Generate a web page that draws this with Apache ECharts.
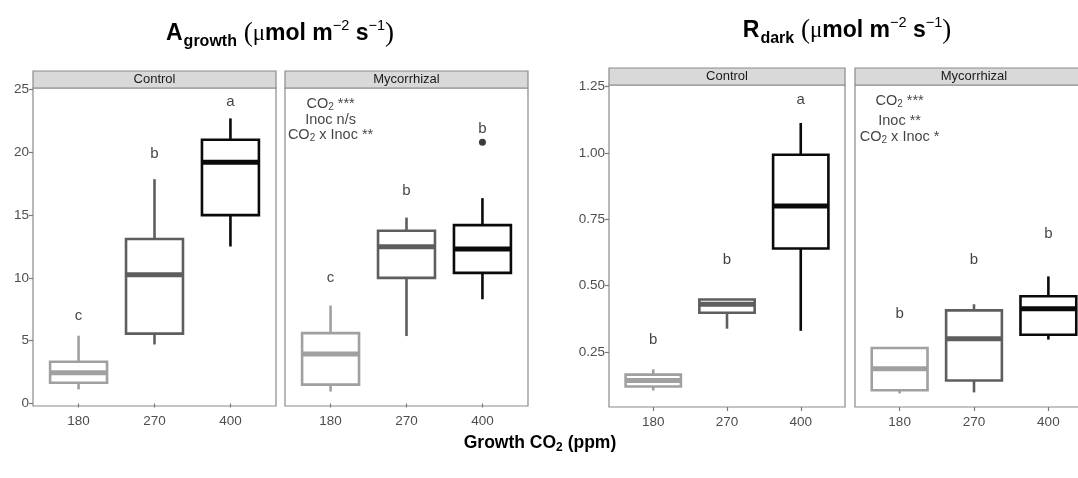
<!DOCTYPE html>
<html>
<head>
<meta charset="utf-8">
<script src="https://cdn.jsdelivr.net/npm/echarts@6/dist/echarts.min.js"></script>
<style>
html,body{margin:0;padding:0;background:#fff;}
#chart{width:1078px;height:478px;}
</style>
</head>
<body>
<div id="chart"></div>
<script>
// ---------- DATA ----------
const categories = ['180', '270', '400'];
const panelNames = ['Control', 'Mycorrhizal'];
// box stats per CO2 level: [min, Q1, median, Q3, max]
const aGrowthControl = [[1.12, 1.65, 2.45, 3.32, 5.4], [4.7, 5.56, 10.25, 13.1, 17.86], [12.5, 15.0, 19.2, 21.0, 22.7]];
const aGrowthMyc = [[0.95, 1.5, 3.95, 5.6, 7.8], [5.37, 10.0, 12.47, 13.75, 14.8], [8.3, 10.4, 12.3, 14.2, 16.35]];
const aGrowthMycOutliers = [[3, 20.8]];
const rDarkControl = [[0.105, 0.12, 0.143, 0.165, 0.185], [0.338, 0.398, 0.43, 0.448, 0.448], [0.33, 0.64, 0.80, 0.993, 1.113]];
const rDarkMyc = [[0.094, 0.106, 0.187, 0.265, 0.269], [0.098, 0.143, 0.30, 0.407, 0.43], [0.297, 0.315, 0.413, 0.46, 0.535]];
// significance letters and their y-values
const aLettersControl = ['c', 'b', 'a'];
const aLetterYControl = [7.0, 19.9, 24.0];
const aLettersMyc = ['c', 'b', 'b'];
const aLetterYMyc = [10.0, 16.9, 21.9];
const rLettersControl = ['b', 'b', 'a'];
const rLetterYControl = [0.297, 0.596, 1.199];
const rLettersMyc = ['b', 'b', 'b'];
const rLetterYMyc = [0.395, 0.596, 0.696];
// ANOVA annotation
const aStats = ['{t|CO}{s|2}{t| ***}', '{t|Inoc n/s}', '{t|CO}{s|2}{t| x Inoc **}'];
const aStatsY = [23.85, 22.6, 21.4];
const rStats = ['{t|CO}{s|2}{t| ***}', '{t|Inoc **}', '{t|CO}{s|2}{t| x Inoc *}'];
const rStatsY = [1.195, 1.12, 1.06];
const aTicks = [0, 5, 10, 15, 20, 25];
const rTicks = [0.25, 0.50, 0.75, 1.00, 1.25];

// ---------- STYLE / LAYOUT ----------
const levelColors = ['#a0a0a0', '#5e5e5e', '#0a0a0a'];
const FONT = 'Liberation Sans, Arial, sans-serif';
const panels = [
  { left: 33, top: 88, width: 243, height: 318, ymin: -0.2, ymax: 25.12, ticks: aTicks, dec: 0, yLabels: true, box: aGrowthControl, letters: aLettersControl, letterY: aLetterYControl },
  { left: 285, top: 88, width: 243, height: 318, ymin: -0.2, ymax: 25.12, ticks: aTicks, dec: 0, yLabels: false, box: aGrowthMyc, letters: aLettersMyc, letterY: aLetterYMyc, outliers: aGrowthMycOutliers, stats: aStats, statsY: aStatsY },
  { left: 609, top: 85, width: 236, height: 322, ymin: 0.043, ymax: 1.256, ticks: rTicks, dec: 2, yLabels: true, box: rDarkControl, letters: rLettersControl, letterY: rLetterYControl },
  { left: 855, top: 85, width: 238, height: 322, ymin: 0.043, ymax: 1.256, ticks: rTicks, dec: 2, yLabels: false, box: rDarkMyc, letters: rLettersMyc, letterY: rLetterYMyc, stats: rStats, statsY: rStatsY }
];

const grid = [], xAxis = [], yAxis = [], series = [], graphic = [];

panels.forEach((p, i) => {
  grid.push({ left: p.left, top: p.top, width: p.width, height: p.height, show: true, backgroundColor: '#fff', borderColor: '#8a8a8a', borderWidth: 1.2, containLabel: false, outerBoundsMode: 'none' });
  xAxis.push({
    type: 'value', gridIndex: i, min: 0.4, max: 3.6,
    axisLine: { show: false }, splitLine: { show: false },
    axisTick: { show: true, customValues: [1, 2, 3], length: 4, lineStyle: { color: '#7a7a7a', width: 1.2 } },
    axisLabel: { customValues: [1, 2, 3], formatter: v => categories[Math.round(v) - 1], color: '#4d4d4d', fontSize: 13.5, fontFamily: FONT, margin: 8 }
  });
  yAxis.push({
    type: 'value', gridIndex: i, min: p.ymin, max: p.ymax,
    axisLine: { show: false }, splitLine: { show: false },
    axisTick: { show: p.yLabels, customValues: p.ticks, length: 4, lineStyle: { color: '#7a7a7a', width: 1.2 } },
    axisLabel: { show: p.yLabels, customValues: p.ticks, formatter: v => v.toFixed(p.dec), color: '#4d4d4d', fontSize: 13.5, fontFamily: FONT, margin: 4 }
  });
  // boxes
  series.push({
    type: 'custom', xAxisIndex: i, yAxisIndex: i, z: 3,
    data: p.box.map((b, k) => [k + 1, b[0], b[1], b[2], b[3], b[4], k]),
    renderItem: (params, api) => {
      const x = api.value(0);
      const lo = api.coord([x, api.value(1)]);
      const q1 = api.coord([x, api.value(2)]);
      const md = api.coord([x, api.value(3)]);
      const q3 = api.coord([x, api.value(4)]);
      const hi = api.coord([x, api.value(5)]);
      const w = api.size([0.75, 0])[0];
      const c = levelColors[api.value(6)];
      return {
        type: 'group', children: [
          { type: 'line', shape: { x1: lo[0], y1: lo[1], x2: q1[0], y2: q1[1] }, style: { stroke: c, lineWidth: 2.6 } },
          { type: 'line', shape: { x1: q3[0], y1: q3[1], x2: hi[0], y2: hi[1] }, style: { stroke: c, lineWidth: 2.6 } },
          { type: 'rect', shape: { x: q3[0] - w / 2, y: q3[1], width: w, height: q1[1] - q3[1] }, style: { fill: '#fff', stroke: c, lineWidth: 2.6 } },
          { type: 'line', shape: { x1: md[0] - w / 2, y1: md[1], x2: md[0] + w / 2, y2: md[1] }, style: { stroke: c, lineWidth: 5 } }
        ]
      };
    }
  });
  // letters
  series.push({
    type: 'scatter', xAxisIndex: i, yAxisIndex: i, symbolSize: 0, z: 4,
    data: p.letters.map((l, k) => ({ value: [k + 1, p.letterY[k]], name: l })),
    label: { show: true, position: 'inside', formatter: d => d.name, color: '#111', fontSize: 15, fontFamily: FONT },
    silent: true
  });
  if (p.outliers) {
    series.push({
      type: 'scatter', xAxisIndex: i, yAxisIndex: i, symbolSize: 7, z: 5,
      itemStyle: { color: '#0a0a0a' }, data: p.outliers
    });
  }
  if (p.stats) {
    series.push({
      type: 'scatter', xAxisIndex: i, yAxisIndex: i, symbolSize: 0, z: 4, silent: true,
      data: p.stats.map((s, k) => ({ value: [1, p.statsY[k]], name: s })),
      label: {
        show: true, position: 'inside', formatter: d => d.name,
        rich: {
          t: { fontSize: 14.5, color: '#111', fontFamily: FONT, lineHeight: 17 },
          s: { fontSize: 10, color: '#111', fontFamily: FONT, lineHeight: 10, padding: [7, 0, 0, 0], verticalAlign: 'bottom' }
        }
      }
    });
  }
  // strip
  const stripH = 17;
  graphic.push({
    type: 'rect', shape: { x: p.left, y: p.top - stripH, width: p.width, height: stripH },
    style: { fill: '#d9d9d9', stroke: '#8a8a8a', lineWidth: 1.2 }, z: 10
  });
  graphic.push({
    type: 'text', x: p.left + p.width / 2, y: p.top - stripH / 2, z: 11,
    style: { text: panelNames[i % 2], fill: '#1a1a1a', font: '13px ' + FONT, align: 'center', verticalAlign: 'middle' }
  });
});

const titleRich = {
  b: { fontFamily: FONT, fontWeight: 'bold', fontSize: 23, lineHeight: 32, color: '#000' },
  sub: { fontFamily: FONT, fontWeight: 'bold', fontSize: 16, lineHeight: 16, padding: [16, 0, 0, 1], verticalAlign: 'bottom', color: '#000' },
  sup: { fontFamily: FONT, fontWeight: 'normal', fontSize: 14.5, lineHeight: 14, padding: [0, 0, 14, 0], verticalAlign: 'top', color: '#000' },
  p: { fontFamily: 'Liberation Serif, serif', fontSize: 27, lineHeight: 32, color: '#000' },
  mu: { fontFamily: 'Liberation Serif, serif', fontSize: 23, lineHeight: 32, color: '#000' }
};
graphic.push({
  type: 'text', x: 280, y: 34, z: 12,
  style: { text: '{b|A}{sub|growth}{p| (}{mu|μ}{b|mol m}{sup|−2}{b| s}{sup|−1}{p|)}', rich: titleRich, align: 'center', verticalAlign: 'middle' }
});
graphic.push({
  type: 'text', x: 847, y: 31, z: 12,
  style: { text: '{b|R}{sub|dark}{p| (}{mu|μ}{b|mol m}{sup|−2}{b| s}{sup|−1}{p|)}', rich: titleRich, align: 'center', verticalAlign: 'middle' }
});
graphic.push({
  type: 'text', x: 540, y: 443, z: 12,
  style: {
    text: '{b|Growth CO}{s|2}{b| (ppm)}', align: 'center', verticalAlign: 'middle',
    rich: {
      b: { fontFamily: FONT, fontWeight: 'bold', fontSize: 17.5, lineHeight: 22, color: '#000' },
      s: { fontFamily: FONT, fontWeight: 'bold', fontSize: 12, lineHeight: 12, padding: [8, 0, 0, 0], verticalAlign: 'bottom', color: '#000' }
    }
  }
});

const chart = echarts.init(document.getElementById('chart'), null, { renderer: 'canvas' });
chart.setOption({
  animation: false,
  backgroundColor: '#fff',
  grid, xAxis, yAxis, series, graphic
});
</script>
</body>
</html>
